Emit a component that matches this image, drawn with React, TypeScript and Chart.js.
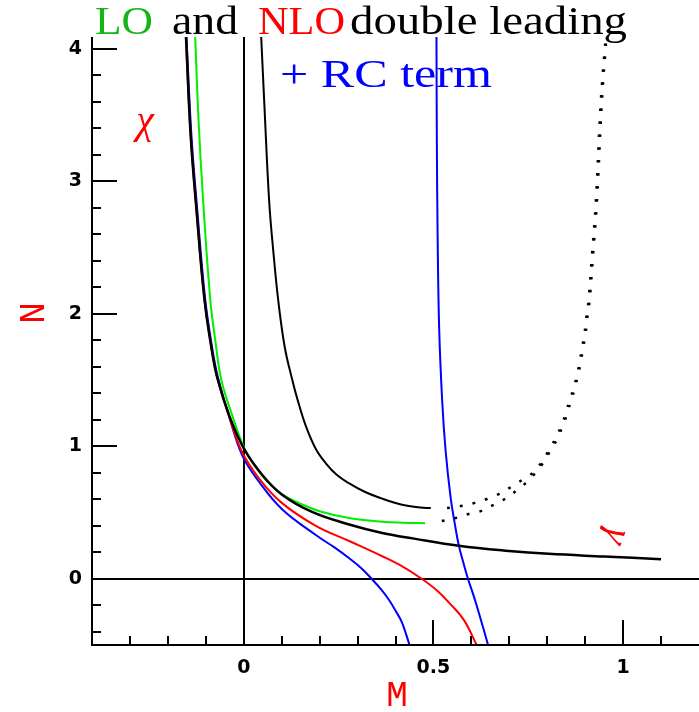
import React, { useEffect, useRef } from "react";
import { Chart, registerables } from "chart.js";
Chart.register(...registerables);

const X_MIN = -0.4;
const X_MAX = 1.2;
const Y_MIN = -0.5;
const Y_MAX = 4.09;

const xTickLabels = [0, 0.5, 1];
const yTickLabels = [0, 1, 2, 3, 4];
const xMinorTicks = [-0.3, -0.2, -0.1, 0.1, 0.2, 0.3, 0.4, 0.6, 0.7, 0.8, 0.9, 1.1];
const yMinorTicks = [-0.4, -0.2, 0.2, 0.4, 0.6, 0.8, 1.2, 1.4, 1.6, 1.8, 2.2, 2.4, 2.6, 2.8, 3.2, 3.4, 3.6, 3.8];

// black main curve (extends to the right)
const blackBX = [-0.152, -0.14, -0.125, -0.104, -0.085, -0.07, -0.038, 0, 0.05, 0.101, 0.18, 0.278, 0.365, 0.449, 0.567, 0.699, 0.804, 0.95, 1.1];
const blackBY = [4.09, 3.35, 2.8, 2.12, 1.74, 1.52, 1.23, 0.985, 0.78, 0.635, 0.505, 0.41, 0.346, 0.303, 0.249, 0.21, 0.188, 0.168, 0.148];

// black upper curve
const blackAX = [0.046, 0.054, 0.067, 0.078, 0.091, 0.108, 0.128, 0.141, 0.164, 0.19, 0.217, 0.245, 0.278, 0.32, 0.365, 0.4, 0.435, 0.465, 0.493];
const blackAY = [4.09, 3.6, 2.85, 2.47, 2.1, 1.75, 1.5, 1.36, 1.15, 0.98, 0.87, 0.785, 0.72, 0.655, 0.605, 0.572, 0.549, 0.538, 0.534];

// green curve
const greenX = [-0.128, -0.119, -0.107, -0.088, -0.075, -0.059, -0.03, 0.001, 0.03, 0.059, 0.1, 0.146, 0.2, 0.278, 0.365, 0.42, 0.478];
const greenY = [4.09, 3.45, 2.85, 2.1, 1.8, 1.5, 1.23, 0.99, 0.85, 0.744, 0.64, 0.571, 0.51, 0.458, 0.43, 0.423, 0.42];

// red curve
const redX = [-0.153, -0.14, -0.125, -0.104, -0.085, -0.07, -0.038, -0.004, 0.041, 0.101, 0.19, 0.278, 0.365, 0.42, 0.469, 0.51, 0.541, 0.58, 0.614];
const redY = [4.09, 3.35, 2.8, 2.12, 1.74, 1.52, 1.22, 0.955, 0.755, 0.571, 0.4, 0.285, 0.17, 0.09, 0, -0.09, -0.18, -0.31, -0.5];

// blue left curve
const blueLX = [-0.151, -0.138, -0.123, -0.102, -0.083, -0.068, -0.037, -0.004, 0.041, 0.101, 0.19, 0.24, 0.278, 0.31, 0.337, 0.362, 0.383, 0.402, 0.417, 0.437];
const blueLY = [4.09, 3.35, 2.8, 2.12, 1.74, 1.52, 1.21, 0.932, 0.73, 0.525, 0.33, 0.235, 0.155, 0.08, 0, -0.08, -0.16, -0.25, -0.33, -0.5];

// blue right curve
const blueRX = [0.508, 0.509, 0.511, 0.515, 0.523, 0.532, 0.545, 0.556, 0.567, 0.58, 0.591, 0.605, 0.62, 0.644];
const blueRY = [4.09, 3.3, 2.6, 1.9, 1.346, 0.97, 0.62, 0.42, 0.25, 0.11, 0, -0.12, -0.26, -0.5];

// dotted upper branch
const dotUX = [0.536, 0.572, 0.607, 0.641, 0.672, 0.704, 0.733, 0.762, 0.785, 0.804, 0.822, 0.836, 0.849, 0.859, 0.87, 0.878, 0.886, 0.891, 0.898, 0.901, 0.907, 0.918, 0.928, 0.941, 0.954];
const dotUY = [0.534, 0.549, 0.571, 0.602, 0.639, 0.692, 0.744, 0.8, 0.88, 0.97, 1.06, 1.15, 1.25, 1.35, 1.44, 1.54, 1.64, 1.74, 1.84, 1.94, 2.05, 2.45, 2.85, 3.6, 4.09];

// dotted lower branch
const dotLX = [0.522, 0.559, 0.593, 0.625, 0.657, 0.688, 0.717, 0.743, 0.766, 0.788, 0.807, 0.825, 0.839, 0.852, 0.862, 0.873, 0.881, 0.889, 0.894, 0.901, 0.904, 0.91, 0.921, 0.931, 0.944, 0.956];
const dotLY = [0.436, 0.459, 0.489, 0.511, 0.556, 0.602, 0.662, 0.722, 0.79, 0.87, 0.96, 1.05, 1.14, 1.24, 1.34, 1.44, 1.54, 1.64, 1.74, 1.84, 1.94, 2.05, 2.45, 2.85, 3.6, 4.09];

const pts = (xs: number[], ys: number[]) => xs.map((x, i) => ({ x, y: ys[i] }));

function drawFit(ctx: CanvasRenderingContext2D, text: string, x: number, y: number, w: number, color: string) {
  const m = ctx.measureText(text).width;
  ctx.save();
  ctx.translate(x, y);
  ctx.scale(w / m, 1);
  ctx.fillStyle = color;
  ctx.textAlign = "left";
  ctx.textBaseline = "alphabetic";
  ctx.fillText(text, 0, 0);
  ctx.restore();
}

const axesPlugin = {
  id: "customAxes",
  beforeDatasetsDraw(chart: any) {
    const { ctx, chartArea, scales } = chart;
    const xs = scales.x, ys = scales.y;
    ctx.save();
    ctx.strokeStyle = "#000";
    ctx.lineWidth = 2;
    const x0 = Math.round(xs.getPixelForValue(0));
    const y0 = Math.round(ys.getPixelForValue(0));
    ctx.beginPath();
    ctx.moveTo(x0, chartArea.top);
    ctx.lineTo(x0, chartArea.bottom);
    ctx.moveTo(chartArea.left, y0);
    ctx.lineTo(chartArea.right, y0);
    ctx.stroke();
    ctx.restore();
  },
  afterDraw(chart: any) {
    const { ctx, chartArea, scales } = chart;
    const xs = scales.x, ys = scales.y;
    ctx.save();
    ctx.strokeStyle = "#000";
    ctx.lineWidth = 2;
    ctx.beginPath();
    ctx.moveTo(chartArea.left, chartArea.top);
    ctx.lineTo(chartArea.left, chartArea.bottom);
    ctx.lineTo(chartArea.right, chartArea.bottom);
    for (const v of xTickLabels) {
      const p = Math.round(xs.getPixelForValue(v));
      ctx.moveTo(p, chartArea.bottom);
      ctx.lineTo(p, chartArea.bottom - 25);
    }
    for (const v of xMinorTicks) {
      const p = Math.round(xs.getPixelForValue(v));
      ctx.moveTo(p, chartArea.bottom);
      ctx.lineTo(p, chartArea.bottom - 9);
    }
    for (const v of yTickLabels) {
      const p = Math.round(ys.getPixelForValue(v));
      ctx.moveTo(chartArea.left, p);
      ctx.lineTo(chartArea.left + 25, p);
    }
    for (const v of yMinorTicks) {
      const p = Math.round(ys.getPixelForValue(v));
      ctx.moveTo(chartArea.left, p);
      ctx.lineTo(chartArea.left + 9, p);
    }
    ctx.stroke();

    // title texts
    ctx.font = '39px "Liberation Serif"';
    drawFit(ctx, "LO", 95, 34, 58, "#16b416");
    drawFit(ctx, "and", 172, 34, 66, "#000");
    drawFit(ctx, "NLO", 258, 34, 87, "#ff0000");
    drawFit(ctx, "double leading", 350, 34, 277, "#000");
    drawFit(ctx, "+ RC term", 280, 87, 212, "#0000ff");

    // chi label
    ctx.fillStyle = "#ff0000";
    ctx.font = 'italic 40px "Liberation Serif"';
    ctx.textAlign = "center";
    ctx.textBaseline = "middle";
    ctx.fillText("χ", 145, 122);

    // axis titles
    ctx.font = '36px "Liberation Mono"';
    ctx.save();
    ctx.translate(34, 313);
    ctx.rotate(-Math.PI / 2);
    ctx.fillText("N", 0, 0);
    ctx.restore();
    ctx.fillText("M", 397, 696);

    // rotated label near curve end
    ctx.save();
    ctx.translate(616, 536);
    ctx.rotate((110 * Math.PI) / 180);
    ctx.font = 'italic 38px "Liberation Serif"';
    ctx.fillText("γ", 0, 0);
    ctx.restore();
    ctx.restore();
  },
};

export default function App() {
  const ref = useRef<HTMLCanvasElement>(null);
  useEffect(() => {
    document.body.style.margin = "0";
    if (!ref.current) return;
    const line = (xs: number[], ys: number[], color: string, width: number, dash: number[] = []) => ({
      data: pts(xs, ys),
      showLine: true,
      borderColor: color,
      borderWidth: width,
      borderDash: dash,
      pointRadius: 0,
      fill: false,
      tension: 0.4,
    });
    const chart = new Chart(ref.current, {
      type: "scatter",
      data: {
        datasets: [
          line(blackBX, blackBY, "#000", 2.5),
          line(blackAX, blackAY, "#000", 2),
          line(dotUX, dotUY, "#000", 2.5, [2.5, 10.5]),
          line(dotLX, dotLY, "#000", 2.5, [2.5, 10.5]),
          line(greenX, greenY, "#00ee00", 2),
          line(redX, redY, "#ff0000", 2),
          line(blueLX, blueLY, "#0000ff", 2),
          line(blueRX, blueRY, "#0000ff", 2),
        ] as any,
      },
      options: {
        animation: false,
        responsive: false,
        events: [],
        layout: { padding: { top: 37, left: 0, right: 0, bottom: 0 } },
        plugins: { legend: { display: false }, tooltip: { enabled: false } },
        scales: {
          x: {
            type: "linear",
            min: X_MIN,
            max: X_MAX,
            grid: { display: false, drawTicks: false },
            border: { display: false },
            afterFit: (s: any) => { s.height = 67; },
            afterBuildTicks: (s: any) => { s.ticks = xTickLabels.map((v) => ({ value: v })); },
            ticks: {
              color: "#000",
              font: { family: "DejaVu Sans", size: 19, weight: "bold" },
              padding: 12,
              maxRotation: 0,
              autoSkip: false,
              callback: (v: any) => String(v),
            },
          },
          y: {
            type: "linear",
            min: Y_MIN,
            max: Y_MAX,
            grid: { display: false, drawTicks: false },
            border: { display: false },
            afterFit: (s: any) => { s.width = 92; },
            afterBuildTicks: (s: any) => { s.ticks = yTickLabels.map((v) => ({ value: v })); },
            ticks: {
              color: "#000",
              font: { family: "DejaVu Sans", size: 19, weight: "bold" },
              padding: 10,
              autoSkip: false,
              callback: (v: any) => String(v),
            },
          },
        },
      },
      plugins: [axesPlugin],
    });
    return () => chart.destroy();
  }, []);
  return <canvas ref={ref} width={699} height={712} style={{ display: "block" }} />;
}
